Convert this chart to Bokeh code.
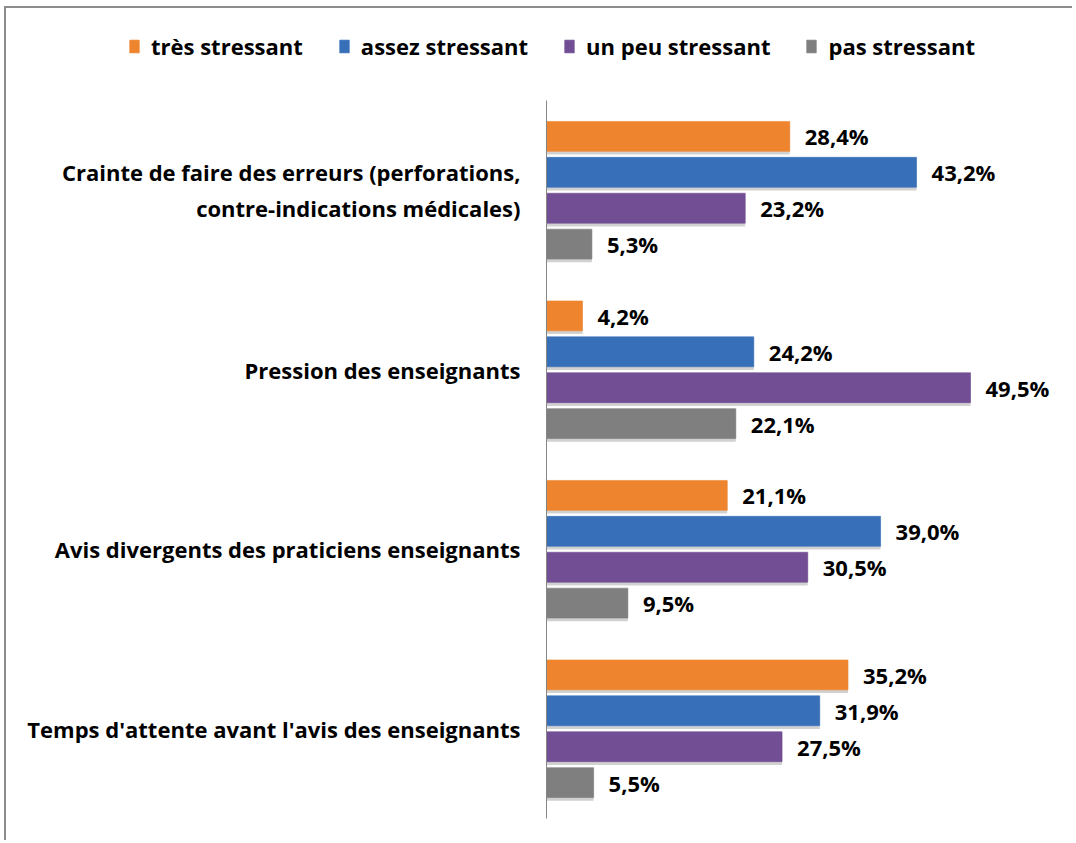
from bokeh.plotting import figure
from bokeh.models import ColumnDataSource, FactorRange, Legend, LegendItem
from bokeh.transform import dodge
from bokeh.core.properties import value
from bokeh.embed import file_html
from bokeh.resources import INLINE

categories = [
    "Crainte de faire des erreurs (perforations,\ncontre-indications médicales)",
    "Pression des enseignants",
    "Avis divergents des praticiens enseignants",
    "Temps d'attente avant l'avis des enseignants",
]
series = ["très stressant", "assez stressant", "un peu stressant", "pas stressant"]
tres = [28.4, 4.2, 21.1, 35.2]
assez = [43.2, 24.2, 39.0, 31.9]
peu = [23.2, 49.5, 30.5, 27.5]
pas = [5.3, 22.1, 9.5, 5.5]
colors = ["#EE852E", "#386FB9", "#724E95", "#7F7F7F"]
offsets = [0.3, 0.1, -0.1, -0.3]
keys = ["tres", "assez", "peu", "pas"]

FONT = "Open Sans"
FS = "22px"
BORDER = "2px solid #8c8c8c"

src_data = {"cat": categories}
for name, vals in zip(keys, [tres, assez, peu, pas]):
    src_data[name] = vals
    src_data[name + "_lbl"] = [f"{v:.1f}%".replace(".", ",") for v in vals]
source = ColumnDataSource(src_data)

W = 1068

# ---- legend strip (own root so its frame is not aligned with the chart's)
pl = figure(width=W, height=94, x_range=(0, 1), y_range=(0, 1),
            output_backend="svg", toolbar_location=None,
            min_border_left=0, min_border_right=0, min_border_top=0, min_border_bottom=0)
pl.outline_line_color = None
pl.xgrid.visible = False
pl.ygrid.visible = False
pl.xaxis.visible = False
pl.yaxis.visible = False

items = []
nan = float("nan")
for label, col in zip(series, colors):
    r = pl.hbar(y=[nan], right=[nan], left=0, height=0.1,
                fill_color=col, line_color=col, line_alpha=0.6)
    items.append(LegendItem(label=label, renderers=[r]))

legend = Legend(items=items, orientation="horizontal", location=(122, 41))
legend.label_text_font = FONT
legend.label_text_font_style = "bold"
legend.label_text_font_size = FS
legend.label_text_color = "black"
legend.glyph_width = 12
legend.glyph_height = 16
legend.label_standoff = 11
legend.spacing = 35
legend.border_line_color = None
legend.background_fill_alpha = 0
legend.margin = 0
legend.padding = 8
pl.add_layout(legend, "center")
pl.styles = {"margin-left": "4px", "margin-top": "6px",
             "border-left": BORDER, "border-top": BORDER}

# ---- main chart
p = figure(
    width=W, height=740,
    y_range=FactorRange(factors=list(reversed(categories)), range_padding=0),
    x_range=(0, (W - 540) / 8.566),
    output_backend="svg", toolbar_location=None,
    min_border_left=540, min_border_right=0, min_border_top=0, min_border_bottom=22,
)
p.outline_line_color = None
p.xgrid.visible = False
p.ygrid.visible = False
p.xaxis.visible = False

yax = p.yaxis[0]
yax.axis_line_color = "#868686"
yax.axis_line_width = 1
yax.major_tick_line_color = None
yax.minor_tick_line_color = None
yax.major_label_text_font = FONT
yax.major_label_text_font_style = "bold"
yax.major_label_text_font_size = FS
yax.major_label_text_color = "black"
yax.major_label_standoff = 20

# soft shadows under the bars
for name, off in zip(keys, offsets):
    p.hbar(y=dodge("cat", off - 0.018, range=p.y_range), right=name, left=0, height=0.1667,
           source=source, fill_color="#bdbdbd", fill_alpha=0.7, line_color=None)

for name, col, off in zip(keys, colors, offsets):
    p.hbar(y=dodge("cat", off, range=p.y_range), right=name, left=0, height=0.1667,
           source=source, fill_color=col, line_color=col, line_alpha=0.6)
    p.text(x=name, y=dodge("cat", off, range=p.y_range), text=name + "_lbl", source=source,
           x_offset=15, text_baseline="middle", text_align="left",
           text_font=value(FONT), text_font_style="bold", text_font_size=FS, text_color="black")

p.styles = {"margin-left": "4px", "border-left": BORDER}

open("out.html", "w").write(file_html([pl, p], INLINE))
